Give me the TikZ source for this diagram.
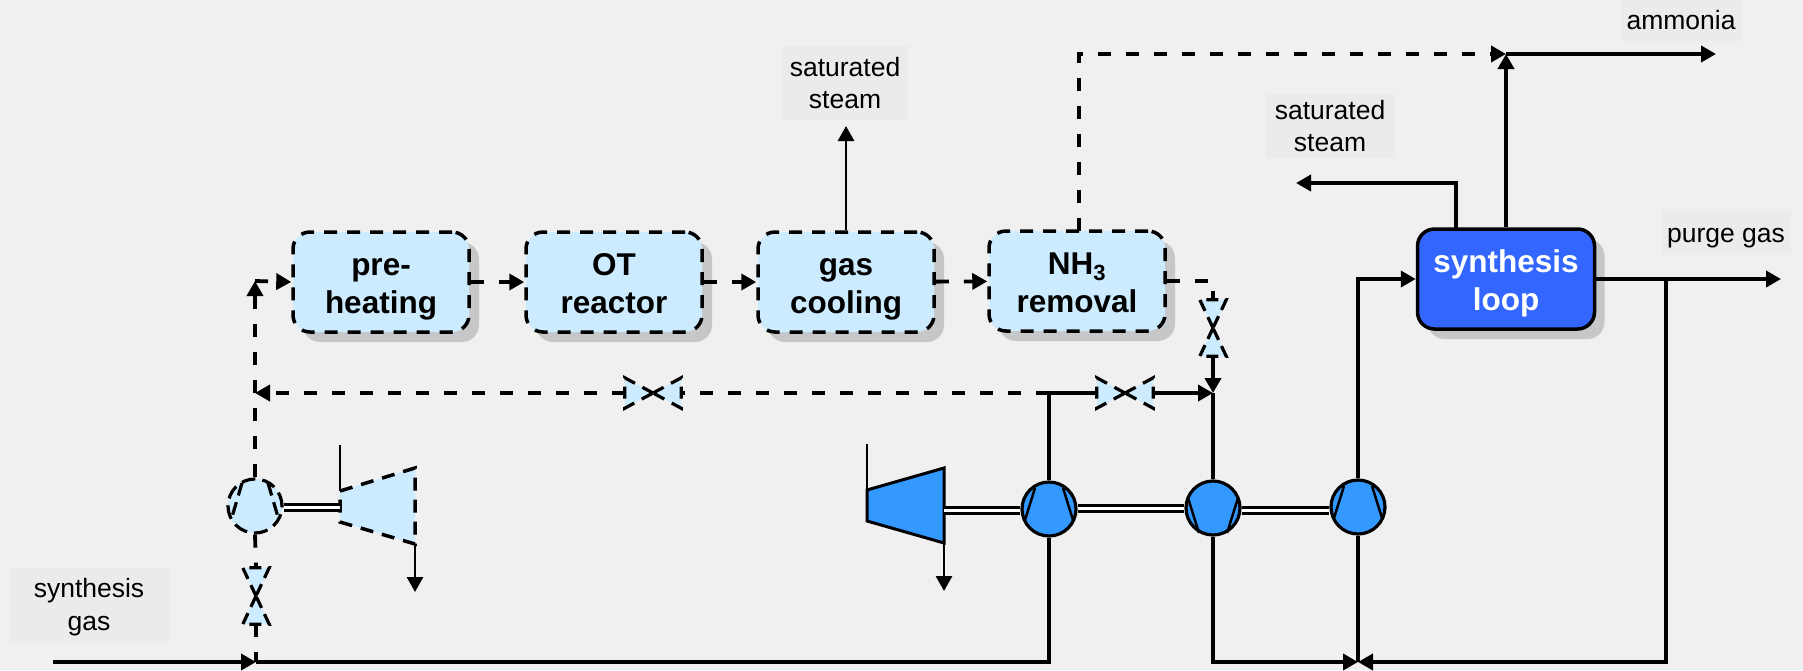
\documentclass[tikz,border=0pt]{standalone}
\usepackage{fontspec}
\setmainfont{Liberation Sans}
\definecolor{bgray}{HTML}{F0F0F0}
\definecolor{lblgray}{HTML}{EBEBEB}
\definecolor{shgray}{HTML}{C6C7C9}
\definecolor{lblue}{HTML}{CCEBFF}
\definecolor{mblue}{HTML}{3399FF}
\definecolor{dblue}{HTML}{3366FF}
\usetikzlibrary{arrows.meta, positioning, shapes.geometric, calc, shadows}

\begin{document}
\begin{tikzpicture}[
  x=1pt, y=-1pt,
  >={Triangle[length=15pt,width=16pt]},
  unit/.style={draw, line width=3.5pt, rounded corners=17pt, minimum width=176pt, minimum height=100pt, align=center, inner sep=0pt, text height=62pt, text depth=0pt, font=\fontsize{31.5}{38}\selectfont\bfseries, general shadow={shadow xshift=10pt, shadow yshift=-10pt, fill=shgray}},
  ot/.style={unit, fill=lblue, dash pattern=on 13pt off 10pt},
  lbl/.style={fill=lblgray, align=center, inner sep=0pt, font=\fontsize{26.5}{32.5}\selectfont},
  comp/.style={circle, draw, line width=3.2pt, minimum size=54pt, inner sep=0pt},
  shaftline/.style={double, double distance=3pt, line width=3pt},
  valveh/.style={minimum width=56pt, minimum height=30pt, inner sep=0pt},
  valvev/.style={minimum width=26pt, minimum height=56pt, inner sep=0pt},
  pipe/.style={line width=3.8pt},
  thinpipe/.style={line width=2.8pt},
  dpipe/.style={pipe, dash pattern=on 13pt off 15pt},
]
  \fill[bgray] (0,0) rectangle (1803,670);
  \useasboundingbox (0,0) rectangle (1803,670);

  % text labels
  \node[lbl, minimum width=160pt, minimum height=73pt, text height=52pt, text depth=0pt] (lgas) at (89,604) {synthesis\\gas};
  \node[lbl, minimum width=125pt, minimum height=74pt] (lsteama) at (845,83) {saturated\\steam};
  \node[lbl, minimum width=129pt, minimum height=64pt] (lsteamb) at (1330,126) {saturated\\steam};
  \node[lbl, minimum width=121pt, minimum height=41pt, text height=19pt, text depth=0pt] (lamm) at (1681,20) {ammonia};
  \node[lbl, minimum width=129pt, minimum height=42pt, text height=20pt, text depth=0pt] (lpurge) at (1726,232) {purge gas};

  % process units
  \node[ot] (preheat) at (381,282) {pre-\\heating};
  \node[ot] (reactor) at (614,282) {OT\\reactor};
  \node[ot] (cooling) at (846,282) {gas\\cooling};
  \node[ot] (removal) at (1077,281) {NH\textsubscript{3}\\removal};
  \node[unit, fill=dblue, text=white, minimum width=177pt] (loop) at (1506,279) {synthesis\\loop};

  % compressors
  \node[comp, fill=lblue, dash pattern=on 14pt off 7pt] (c0) at (255,506) {};
  \node[comp, fill=mblue] (c1) at (1049,509) {};
  \node[comp, fill=mblue] (c2) at (1213,508) {};
  \node[comp, fill=mblue] (c3) at (1358,507) {};
  \draw[line width=3.2pt, dash pattern=on 13pt off 7pt] ($(c0)+(-13,-23)$) -- ($(c0)+(-23,11)$);
  \draw[line width=3.2pt, dash pattern=on 13pt off 7pt] ($(c0)+(13,-23)$) -- ($(c0)+(23,11)$);
  \foreach \c in {c1,c3}{
    \draw[line width=2.5pt] ($(\c)+(-14,-21)$) -- ($(\c)+(-24,11)$);
    \draw[line width=2.5pt] ($(\c)+(14,-21)$) -- ($(\c)+(24,11)$);
  }
  \draw[line width=2.5pt] ($(c2)+(-25,-10)$) -- ($(c2)+(-14,25)$);
  \draw[line width=2.5pt] ($(c2)+(25,-10)$) -- ($(c2)+(14,25)$);

  % turbines
  \fill[lblue] (340,491) -- (415,468) -- (415,544) -- (340,522) -- cycle;
  \draw[line width=3.5pt, dash pattern=on 13pt off 9pt] (340,491) -- (415,468) -- (415,544) -- (340,522) -- cycle;
  \draw[line width=2.5pt] (340,445) -- (340,491);
  \draw[thinpipe, ->] (415,544) -- (415,592);
  \draw[line width=3pt, fill=mblue] (867,490) -- (944,468) -- (944,543) -- (867,521) -- cycle;
  \draw[line width=2.5pt] (867,444) -- (867,490);
  \draw[thinpipe, ->] (944,543) -- (944,591);

  % shafts
  \draw[shaftline] (c0.east |- 0,507) -- (340,507);
  \draw[shaftline] (944,510) -- (c1.west |- 0,510);
  \draw[shaftline] (c1.east |- 0,508) -- (c2.west |- 0,508);
  \draw[shaftline] (c2.east |- 0,510) -- (c3.west |- 0,510);

  % valves
  \node[valveh] (v1) at (653,393) {};
  \node[valveh] (v2) at (1125,393) {};
  \node[valvev] (v3) at (256,596) {};
  \node[valvev] (v4) at (1213,328) {};
  \foreach \v in {v1,v2}{
    \foreach \s in {west,east}{
      \draw[line width=3.2pt, fill=lblue, dash pattern=on 12pt off 8.4pt] (\v.center) -- (\v.north \s) -- (\v.south \s) -- cycle;
    }
  }
  \foreach \v in {v3,v4}{
    \foreach \s in {north,south}{
      \draw[line width=3.2pt, fill=lblue, dash pattern=on 12pt off 6.9pt] (\v.center) -- (\v.\s\space west) -- (\v.\s\space east) -- cycle;
    }
  }

  % flows
  \coordinate (in) at (53,662);
  \coordinate (j0) at (256,662);
  \coordinate (j1) at (1049,393);
  \coordinate (j2) at (1213,393);
  \coordinate (j3) at (1358,662);
  \coordinate (top) at (1506,54);
  \draw[dpipe, ->] (preheat) -- (reactor);
  \draw[dpipe, ->] (reactor) -- (cooling);
  \draw[dpipe, ->] (cooling) -- (removal);
  \draw[dpipe] (removal.east |- 0,281) -| (v4.north);
  \draw[pipe, ->] (v4.south) -- (j2);
  \draw[pipe, ->] (in) -- (j0);
  \draw[pipe] (j0) -| (c1.south);
  \draw[pipe] (c1.north) |- (v2.west);
  \draw[pipe, ->] (v2.east) -- (j2);
  \draw[pipe] (c2.north) -- (j2);
  \draw[pipe, ->] (c2.south) |- (j3);
  \draw[pipe] (c3.south) -- (j3);
  \draw[pipe, ->] (c3.north) |- (loop.west);
  \draw[pipe, ->] (loop.east) -- (1781,279);
  \draw[pipe, ->] (1666,279) |- (j3);
  \draw[dpipe] (j1) -- (v1.east);
  \draw[dpipe, ->] (v1.west) -- (255,393);
  \draw[dpipe, ->] (c0.north) -- (255,281);
  \draw[dpipe, ->] (255,281) -- (preheat.west);
  \draw[dpipe] (c0.south) -- (v3.north);
  \draw[dpipe] (v3.south) -- (j0);
  \draw[thinpipe, ->] (cooling.north) -- (846,126);
  \draw[dpipe, ->] (1079,231) |- (top);
  \draw[pipe, ->] (loop.north) -- (top);
  \draw[pipe, ->] (top) -- (1716,54);
  \draw[pipe, ->] (1456,229) |- (1296,183);
\end{tikzpicture}
\end{document}
